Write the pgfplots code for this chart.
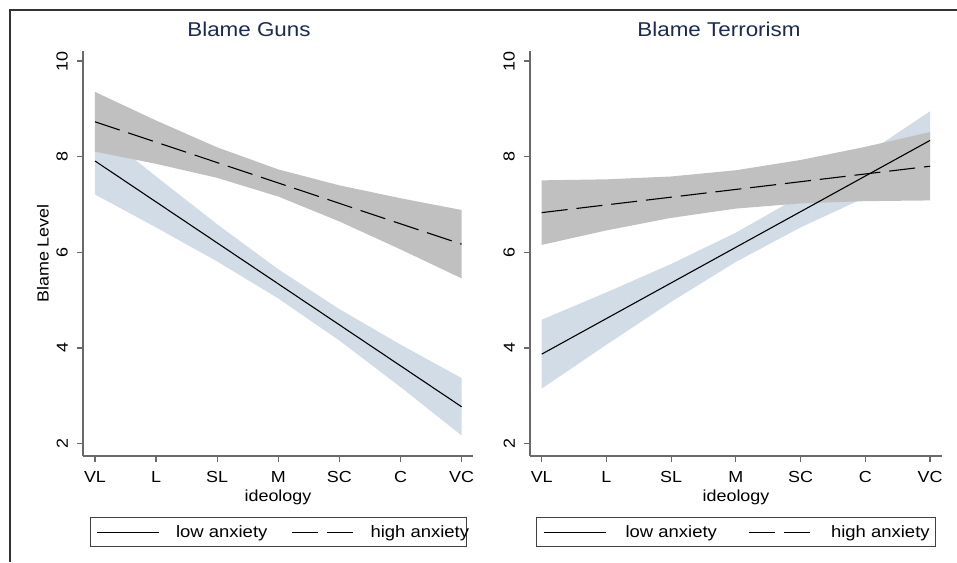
\documentclass[border=0pt]{standalone}
\usepackage{fontspec}
\setmainfont{Liberation Sans}[FakeStretch=1.12]
\usepackage{pgfplots}
\pgfplotsset{compat=1.18}

\definecolor{bandgray}{RGB}{192,192,192}
\definecolor{bandblue}{RGB}{210,220,230}
\definecolor{titlenavy}{RGB}{28,42,82}
\definecolor{axisgray}{RGB}{105,105,105}

\pgfplotsset{
  stata/.style={
    scale only axis,
    height=405pt,
    ymin=1.74, ymax=10.21,
    axis x line*=bottom, axis y line*=left,
    axis line style={axisgray, line width=1.2pt},
    tick style={axisgray, line width=1.2pt},
    tick align=outside, major tick length=6pt,
    xtick={1,...,7}, xticklabels={VL,L,SL,M,SC,C,VC},
    ytick={2,4,6,8,10},
    /pgf/number format/assume math mode=true,
    ticklabel style={font=\fontsize{16}{19}\selectfont, text=black},
    yticklabel style={rotate=90, anchor=south, inner sep=0pt, yshift=9pt},
    xticklabel style={inner sep=0pt, yshift=-9pt},
    xlabel={ideology},
    xlabel style={at={(axis description cs:0.5,-0.1012)}, anchor=center, font=\fontsize{16}{19}\selectfont},
    title style={font=\fontsize{20}{24}\selectfont, text=titlenavy, anchor=center},
    legend columns=2,
    legend image code/.code={\draw[#1] (0pt,0pt) -- (62pt,0pt);},
    legend style={anchor=north west, draw=black!75, line width=0.8pt,
      inner xsep=7pt, inner ysep=6pt,
      font=\fontsize{16.5}{19}\selectfont,
      cells={anchor=west, inner sep=0pt, text height=12pt, text depth=4pt}},
  },
  lowline/.style={black, line width=1.1pt},
  highline/.style={black, line width=1.1pt, dash pattern=on 26pt off 9pt},
}

\begin{document}
\begin{tikzpicture}
\useasboundingbox (0pt,0pt) rectangle (957pt,562pt);
\draw[black!80, line width=1.6pt] (10pt,0pt) -- (10pt,552pt) -- (957pt,552pt);

% Blame Guns
\begin{axis}[stata,
  at={(83pt,106pt)}, anchor=south west,
  width=390pt, xmin=0.8036, xmax=7.187,
  title={Blame Guns},
  title style={at={(axis description cs:0.4256,1.0395)}},
  ylabel={Blame Level},
  ylabel style={at={(axis description cs:-0.1026,0.5)}, anchor=center, font=\fontsize{16}{19}\selectfont},
  legend style={at={(axis description cs:0.0167,-0.1506)},
    column sep=14pt, /tikz/every even column/.append style={column sep=22pt}},
]
\addplot[fill=bandblue, draw=none, forget plot] coordinates {
  (1,8.61) (2,7.586) (3,6.586) (4,5.645) (5,4.812) (6,4.071) (7,3.37)
  (7,2.17) (6,3.183) (5,4.154) (4,5.035) (3,5.808) (2,6.52) (1,7.21)
} -- cycle;
\addplot[fill=bandgray, draw=none, forget plot] coordinates {
  (1,9.355) (2,8.756) (3,8.195) (4,7.734) (5,7.40) (6,7.131) (7,6.885)
  (7,5.455) (6,6.061) (5,6.646) (4,7.166) (3,7.557) (2,7.85) (1,8.105)
} -- cycle;
\addplot[lowline] coordinates {(1,7.91) (7,2.77)};
\addlegendentry{low anxiety}
\addplot[highline] coordinates {(1,8.73) (7,6.17)};
\addlegendentry{high anxiety\hspace*{-12pt}}
\end{axis}

% Blame Terrorism
\begin{axis}[stata,
  at={(530pt,106pt)}, anchor=south west,
  width=412pt, xmin=0.819, xmax=7.185,
  title={Blame Terrorism},
  title style={at={(axis description cs:0.4587,1.0395)}},
  legend style={at={(axis description cs:0.0146,-0.1506)},
    column sep=17pt, /tikz/every even column/.append style={column sep=30pt}},
]
\addplot[fill=bandblue, draw=none, forget plot] coordinates {
  (1,4.59) (2,5.162) (3,5.756) (4,6.411) (5,7.179) (6,8.044) (7,8.95)
  (7,7.73) (6,7.146) (5,6.521) (4,5.799) (3,4.964) (2,4.068) (1,3.15)
} -- cycle;
\addplot[fill=bandgray, draw=none, forget plot] coordinates {
  (1,7.505) (2,7.526) (3,7.586) (4,7.716) (5,7.931) (6,8.206) (7,8.515)
  (7,7.085) (6,7.07) (5,7.023) (4,6.914) (3,6.72) (2,6.458) (1,6.155)
} -- cycle;
\addplot[lowline] coordinates {(1,3.87) (7,8.34)};
\addlegendentry{low anxiety}
\addplot[highline] coordinates {(1,6.83) (7,7.80)};
\addlegendentry{high anxiety\hspace*{-3pt}}
\end{axis}
\end{tikzpicture}
\end{document}
